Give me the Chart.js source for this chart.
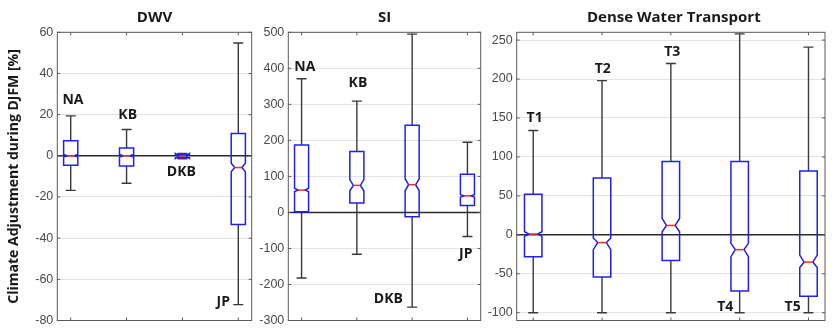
<!DOCTYPE html>
<html>
<head>
<meta charset="utf-8">
<script src="https://cdn.jsdelivr.net/npm/chart.js@4.4.0/dist/chart.umd.min.js"></script>
<style>
  body { margin: 0; background: #fff; width: 832px; height: 332px; position: relative; overflow: hidden; }
  canvas { position: absolute; top: 0; }
</style>
</head>
<body>
<canvas id="dwvChart" width="256" height="332" style="left:0"></canvas>
<canvas id="siChart" width="229" height="332" style="left:256px"></canvas>
<canvas id="dwtChart" width="347" height="332" style="left:485px"></canvas>
<script>
// ---- DWV ----
const dwvCats      = ['NA', 'KB', 'DKB', 'JP'];
const dwvWhiskerHi = [19.4, 12.8, 1.2, 54.8];
const dwvQ3        = [7.3, 3.8, 0.8, 10.9];
const dwvNotchHi   = [0.6, 0.6, 1.1, -3.6];
const dwvMedian    = [0, 0, -0.1, -5.7];
const dwvNotchLo   = [-0.6, -0.6, -1.3, -7.7];
const dwvQ1        = [-4.6, -4.9, -0.9, -33.4];
const dwvWhiskerLo = [-16.8, -13.3, -1.4, -72.3];
const dwvLabelX    = [1.04, 2.02, 2.98, 3.73];
const dwvLabelY    = [27, 20, -8, -71];
const dwvTicks     = [-80, -60, -40, -20, 0, 20, 40, 60];

// ---- SI ----
const siCats      = ['NA', 'KB', 'DKB', 'JP'];
const siWhiskerHi = [371, 309, 495, 195];
const siQ3        = [187, 169, 242, 106];
const siNotchHi   = [67, 91, 93, 49];
const siMedian    = [62, 75, 77, 46];
const siNotchLo   = [58, 60, 60, 43];
const siQ1        = [2, 26, -12, 19];
const siWhiskerLo = [-182, -116, -263, -67];
const siLabelX    = [1.06, 2.02, 2.57, 3.97];
const siLabelY    = [403, 359, -240, -116];
const siTicks     = [-300, -200, -100, 0, 100, 200, 300, 400, 500];

// ---- Dense Water Transport ----
const dwtCats      = ['T1', 'T2', 'T3', 'T4', 'T5'];
const dwtWhiskerHi = [134, 198, 220, 258, 241];
const dwtQ3        = [52, 73, 94, 94, 82];
const dwtNotchHi   = [4, -4, 21, -11, -26];
const dwtMedian    = [1, -10, 12, -19, -35];
const dwtNotchLo   = [-2, -19, 4, -28, -42];
const dwtQ1        = [-28, -54, -33, -72, -79];
const dwtWhiskerLo = [-100, -100, -100, -100, -100];
const dwtLabelX    = [1.02, 2.01, 3.02, 3.79, 4.77];
const dwtLabelY    = [150, 213, 235, -93, -93];
const dwtTicks     = [-100, -50, 0, 50, 100, 150, 200, 250];

const LABEL_FONT = 'bold 14px "Open Sans", Lato, sans-serif';
const TITLE_FONT = 'bold 15px "Open Sans", Lato, sans-serif';

// draws the notched boxes, whiskers, frame and annotations on top of the axes
const boxPlugin = {
  id: 'boxes',
  afterDatasetsDraw(chart, args, opts) {
    const { ctx, chartArea: a, scales: { x, y } } = chart;
    const unit = x.getPixelForValue(2) - x.getPixelForValue(1);
    const hw = unit * 0.127;
    const cap = 5;

    ctx.save();
    // zero line
    ctx.strokeStyle = '#2b2b2b';
    ctx.lineWidth = 1.6;
    ctx.beginPath();
    ctx.moveTo(a.left, y.getPixelForValue(0));
    ctx.lineTo(a.right, y.getPixelForValue(0));
    ctx.stroke();

    chart.data.datasets[0].data.forEach(d => {
      const cx = x.getPixelForValue(d.x);
      const py = v => y.getPixelForValue(v);

      // whiskers
      ctx.strokeStyle = '#3a3a3a';
      ctx.lineWidth = 1.4;
      ctx.beginPath();
      ctx.moveTo(cx, py(d.whiskerHi)); ctx.lineTo(cx, py(d.q3));
      ctx.moveTo(cx, py(d.q1)); ctx.lineTo(cx, py(d.whiskerLo));
      ctx.moveTo(cx - cap, py(d.whiskerHi)); ctx.lineTo(cx + cap, py(d.whiskerHi));
      ctx.moveTo(cx - cap, py(d.whiskerLo)); ctx.lineTo(cx + cap, py(d.whiskerLo));
      ctx.stroke();

      // notched box
      ctx.strokeStyle = '#2020f0';
      ctx.lineWidth = 1.5;
      ctx.beginPath();
      ctx.moveTo(cx - hw, py(d.q3));
      ctx.lineTo(cx + hw, py(d.q3));
      ctx.lineTo(cx + hw, py(d.notchHi));
      ctx.lineTo(cx + hw / 2, py(d.y));
      ctx.lineTo(cx + hw, py(d.notchLo));
      ctx.lineTo(cx + hw, py(d.q1));
      ctx.lineTo(cx - hw, py(d.q1));
      ctx.lineTo(cx - hw, py(d.notchLo));
      ctx.lineTo(cx - hw / 2, py(d.y));
      ctx.lineTo(cx - hw, py(d.notchHi));
      ctx.closePath();
      ctx.stroke();

      // median
      ctx.strokeStyle = '#f03020';
      ctx.lineWidth = 1.5;
      ctx.beginPath();
      ctx.moveTo(cx - hw / 2, py(d.y));
      ctx.lineTo(cx + hw / 2, py(d.y));
      ctx.stroke();
    });

    // frame with inward ticks
    ctx.strokeStyle = '#5a5a5a';
    ctx.lineWidth = 1;
    ctx.strokeRect(a.left, a.top, a.right - a.left, a.bottom - a.top);
    ctx.beginPath();
    y.ticks.forEach(t => {
      const ty = y.getPixelForValue(t.value);
      ctx.moveTo(a.left, ty); ctx.lineTo(a.left + 3, ty);
      ctx.moveTo(a.right, ty); ctx.lineTo(a.right - 3, ty);
    });
    opts.cats.forEach((c, i) => {
      const tx = x.getPixelForValue(i + 1);
      ctx.moveTo(tx, a.top); ctx.lineTo(tx, a.top + 3);
      ctx.moveTo(tx, a.bottom); ctx.lineTo(tx, a.bottom - 3);
    });
    ctx.stroke();

    // category labels
    ctx.fillStyle = '#1a1a1a';
    ctx.font = LABEL_FONT;
    ctx.textAlign = 'center';
    ctx.textBaseline = 'middle';
    opts.cats.forEach((c, i) => {
      ctx.fillText(c, x.getPixelForValue(opts.labelX[i]), y.getPixelForValue(opts.labelY[i]));
    });

    // panel title
    ctx.font = TITLE_FONT;
    ctx.fillText(opts.title, (a.left + a.right) / 2 + opts.titleShift, 18);
    ctx.restore();
  }
};

function makePanel(id, p) {
  const data = p.cats.map((c, i) => ({
    x: i + 1,
    y: p.median[i],
    q1: p.q1[i], q3: p.q3[i],
    notchLo: p.notchLo[i], notchHi: p.notchHi[i],
    whiskerLo: p.whiskerLo[i], whiskerHi: p.whiskerHi[i]
  }));
  return new Chart(document.getElementById(id), {
    type: 'scatter',
    data: { datasets: [{ data, pointRadius: 0 }] },
    options: {
      responsive: false,
      animation: false,
      events: [],
      layout: { padding: { top: 32.3, bottom: 8.7, left: 0, right: p.padRight } },
      plugins: {
        legend: { display: false },
        tooltip: { enabled: false },
        boxes: { cats: p.cats, labelX: p.labelX, labelY: p.labelY, title: p.title, titleShift: p.titleShift || 0 }
      },
      scales: {
        x: { type: 'linear', display: false, min: 0.76, max: p.cats.length + 0.24 },
        y: {
          min: p.min, max: p.max,
          afterBuildTicks: s => { s.ticks = p.ticks.map(v => ({ value: v })); },
          afterFit: s => { s.width = p.axisWidth; },
          border: { display: false },
          grid: { color: '#e4e4e4', drawTicks: false, lineWidth: 1 },
          ticks: {
            padding: 4,
            color: '#4a4a4a',
            font: { family: '"Liberation Sans", Arial, sans-serif', size: 12.5 }
          },
          title: {
            display: !!p.yTitle,
            text: p.yTitle || '',
            color: '#1a1a1a',
            font: { family: '"Open Sans", Lato, sans-serif', size: 14, weight: 'bold' },
            padding: { top: 5.5, bottom: 0 }
          }
        }
      }
    },
    plugins: [boxPlugin]
  });
}

makePanel('dwvChart', {
  title: 'DWV', yTitle: 'Climate Adjustment during DJFM [%]',
  cats: dwvCats, median: dwvMedian, q1: dwvQ1, q3: dwvQ3,
  notchLo: dwvNotchLo, notchHi: dwvNotchHi, whiskerLo: dwvWhiskerLo, whiskerHi: dwvWhiskerHi,
  labelX: dwvLabelX, labelY: dwvLabelY, ticks: dwvTicks,
  min: -80, max: 60, axisWidth: 57.3, padRight: 4.3
});

makePanel('siChart', {
  title: 'SI',
  cats: siCats, median: siMedian, q1: siQ1, q3: siQ3,
  notchLo: siNotchLo, notchHi: siNotchHi, whiskerLo: siWhiskerLo, whiskerHi: siWhiskerHi,
  labelX: siLabelX, labelY: siLabelY, ticks: siTicks,
  min: -300, max: 500, axisWidth: 32.3, padRight: 4.3
});

makePanel('dwtChart', {
  title: 'Dense Water Transport', titleShift: 3,
  cats: dwtCats, median: dwtMedian, q1: dwtQ1, q3: dwtQ3,
  notchLo: dwtNotchLo, notchHi: dwtNotchHi, whiskerLo: dwtWhiskerLo, whiskerHi: dwtWhiskerHi,
  labelX: dwtLabelX, labelY: dwtLabelY, ticks: dwtTicks,
  min: -110, max: 260, axisWidth: 31.7, padRight: 7
});
</script>
</body>
</html>
